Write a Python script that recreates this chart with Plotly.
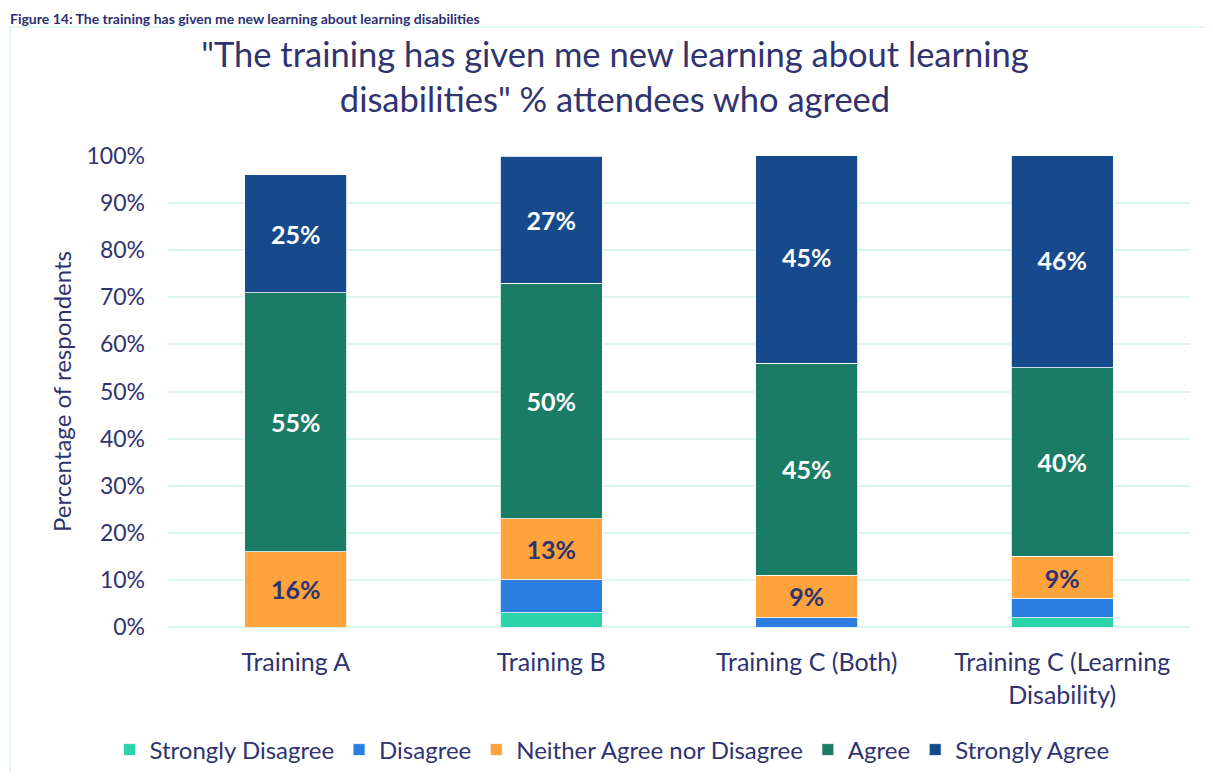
import plotly.graph_objects as go

categories = ["Training A", "Training B", "Training C (Both)", "Training C (Learning<br>Disability)"]
strongly_disagree = [0, 3, 0, 2]
disagree = [0, 7, 2, 4]
neither = [16, 13, 9, 9]
agree = [55, 50, 45, 40]
strongly_agree = [25, 27, 45, 46]
tick_vals = [0, 10, 20, 30, 40, 50, 60, 70, 80, 90, 100]
tick_text = [f"{v}%" for v in tick_vals]

FONT = "Lato"
NAVY = "#2f336f"

series = [
    ("Strongly Disagree", strongly_disagree, "#2cd4a9", False, None),
    ("Disagree", disagree, "#2b7de0", False, None),
    ("Neither Agree nor Disagree", neither, "#ffa33d", True, NAVY),
    ("Agree", agree, "#1b7c66", True, "white"),
    ("Strongly Agree", strongly_agree, "#174a8c", True, "white"),
]

fig = go.Figure()
for name, vals, color, show, tcolor in series:
    fig.add_trace(go.Bar(
        name=name, x=categories, y=vals,
        marker=dict(color=color, line=dict(color="white", width=0.8)),
        text=[f"<b>{v}%</b>" for v in vals] if show else None,
        texttemplate="%{text}" if show else None,
        textposition="inside" if show else "none",
        insidetextanchor="middle",
        textangle=0,
        constraintext="none",
        textfont=dict(family=FONT, size=25, color=tcolor if tcolor else "white"),
        hoverinfo="skip",
    ))

# figure sits at page offset (8, 8) because of the default body margin
W, H = 1197, 765
L, R, T, B = 160, 15, 148, 146
pw, ph = W - L - R, H - T - B

def px(xp):
    return (xp - L) / pw

def py(yp):
    return (H - B - yp) / ph

fig.update_layout(
    width=W, height=H,
    margin=dict(l=L, r=R, t=T, b=B, autoexpand=False),
    barmode="stack",
    bargap=0.6,
    plot_bgcolor="white",
    paper_bgcolor="white",
    font=dict(family=FONT, color=NAVY, size=24),
    title=dict(
        text="\"The training has given me new learning about learning<br>disabilities\" % attendees who agreed",
        x=(615 - 8) / W, xanchor="center", y=1 - 59 / H, yanchor="middle",
        font=dict(family=FONT, size=34.5, color=NAVY),
    ),
    xaxis=dict(
        showgrid=False, showline=False, ticks="",
        tickfont=dict(size=25, color=NAVY, family=FONT),
        ticklabelstandoff=18,
        automargin=False,
    ),
    yaxis=dict(
        range=[0, 100], tickvals=tick_vals, ticktext=tick_text,
        showgrid=True, gridcolor="#dcf5ee", gridwidth=1.5,
        zeroline=True, zerolinecolor="#dcf5ee", zerolinewidth=1.5,
        showline=False, ticks="",
        tickfont=dict(size=23, color=NAVY, family=FONT),
        ticklabelstandoff=22,
        automargin=False,
        title=dict(text="Percentage of respondents", font=dict(size=24, color=NAVY, family=FONT), standoff=8),
    ),
    legend=dict(
        orientation="h", x=px(612 - 8), xanchor="center",
        yref="container", y=1 - 742 / H, yanchor="middle",
        font=dict(size=24, color=NAVY, family=FONT),
        traceorder="normal", itemwidth=30,
    ),
    shapes=[dict(
        type="rect", xref="paper", yref="paper",
        x0=px(2), x1=px(1230), y0=py(800), y1=py(19),
        line=dict(color="#dcf5ee", width=1.5), fillcolor="rgba(0,0,0,0)", layer="below",
    )],
    annotations=[dict(
        text="<b>Figure 14: The training has given me new learning about learning disabilities</b>",
        xref="paper", yref="paper", x=px(0), y=py(0), xanchor="left", yanchor="top",
        showarrow=False, font=dict(family=FONT, size=14, color="#2b2f72"),
    )],
)

fig.write_html("out.html")
